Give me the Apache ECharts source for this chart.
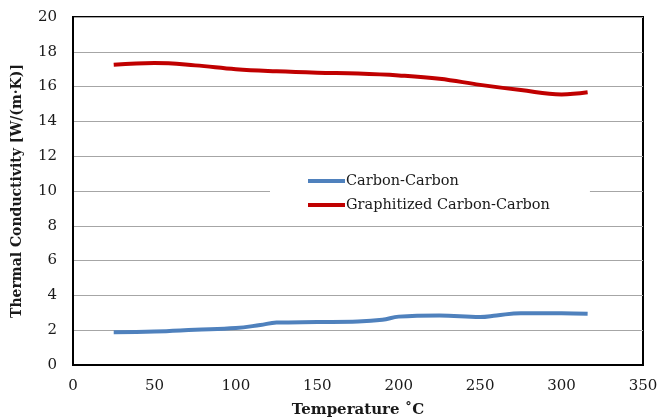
<!DOCTYPE html>
<html>
<head>
<meta charset="utf-8">
<script src="https://cdn.jsdelivr.net/npm/echarts@6/dist/echarts.min.js"></script>
<style>
  html, body { margin: 0; padding: 0; background: #fff; }
  #chart { width: 660px; height: 418px; }
</style>
</head>
<body>
<div id="chart"></div>
<script>
// Temperature (°C) and thermal conductivity (W/(m·K)) readings
const carbonTemps = [25, 50, 75, 100, 115, 125, 150, 175, 190, 200, 225, 250, 260, 275, 300, 316];
const carbonValues = [1.88, 1.92, 2.02, 2.12, 2.3, 2.44, 2.47, 2.5, 2.6, 2.78, 2.85, 2.76, 2.85, 2.98, 2.97, 2.94];

const graphTemps = [25, 50, 75, 100, 125, 150, 175, 200, 225, 250, 275, 300, 316];
const graphValues = [17.25, 17.35, 17.22, 17.0, 16.88, 16.8, 16.75, 16.64, 16.45, 16.1, 15.8, 15.55, 15.67];

const seriesNames = ['Carbon-Carbon', 'Graphitized Carbon-Carbon'];
const seriesColors = ['#4F81BD', '#C00000'];

const xTitle = 'Temperature ˚C';
const yTitle = 'Thermal Conductivity [W/(m·K)]';

const serif = '"DejaVu Serif", "Liberation Serif", serif';

const zip = (xs, ys) => xs.map((x, i) => [x, ys[i]]);

const chart = echarts.init(document.getElementById('chart'), null, { renderer: 'canvas' });
chart.setOption({
  animation: false,
  backgroundColor: '#fff',
  grid: {
    left: 73, right: 17, top: 17, bottom: 53,
    outerBoundsMode: 'none',
    containLabel: false,
    show: true, borderColor: '#000', borderWidth: 2, backgroundColor: 'transparent'
  },
  legend: {
    orient: 'vertical',
    left: 270, top: 167,
    backgroundColor: '#fff',
    padding: [5, 40, 5, 38],
    itemGap: 6,
    itemWidth: 37, itemHeight: 4,
    icon: 'rect',
    textStyle: { fontFamily: serif, fontSize: 14.5, color: '#1a1a1a', lineHeight: 18, padding: [0, 0, 0, -4] },
    data: seriesNames
  },
  xAxis: {
    type: 'value', min: 0, max: 350, interval: 50,
    name: xTitle, nameLocation: 'middle', nameGap: 38,
    nameTextStyle: { fontFamily: serif, fontSize: 15, fontWeight: 'bold', color: '#1a1a1a' },
    axisLine: { show: true, lineStyle: { color: '#000', width: 2 } },
    axisTick: { show: false },
    axisLabel: { fontFamily: serif, fontSize: 15, color: '#1a1a1a', margin: 14 },
    splitLine: { show: false }
  },
  yAxis: {
    type: 'value', min: 0, max: 20, interval: 2,
    name: yTitle, nameLocation: 'middle', nameGap: 49, nameRotate: 90,
    nameTextStyle: { fontFamily: serif, fontSize: 14, fontWeight: 'bold', color: '#1a1a1a' },
    axisLine: { show: true, lineStyle: { color: '#000', width: 2 } },
    axisTick: { show: false },
    axisLabel: { fontFamily: serif, fontSize: 15, color: '#1a1a1a', margin: 16 },
    splitLine: { show: true, lineStyle: { color: '#a6a6a6', width: 1 } }
  },
  series: [
    {
      name: seriesNames[0], type: 'line', smooth: 0.4, showSymbol: false,
      data: zip(carbonTemps, carbonValues),
      itemStyle: { color: seriesColors[0] },
      lineStyle: { color: seriesColors[0], width: 4 }
    },
    {
      name: seriesNames[1], type: 'line', smooth: 0.4, showSymbol: false,
      data: zip(graphTemps, graphValues),
      itemStyle: { color: seriesColors[1] },
      lineStyle: { color: seriesColors[1], width: 4 }
    }
  ]
});
</script>
</body>
</html>
